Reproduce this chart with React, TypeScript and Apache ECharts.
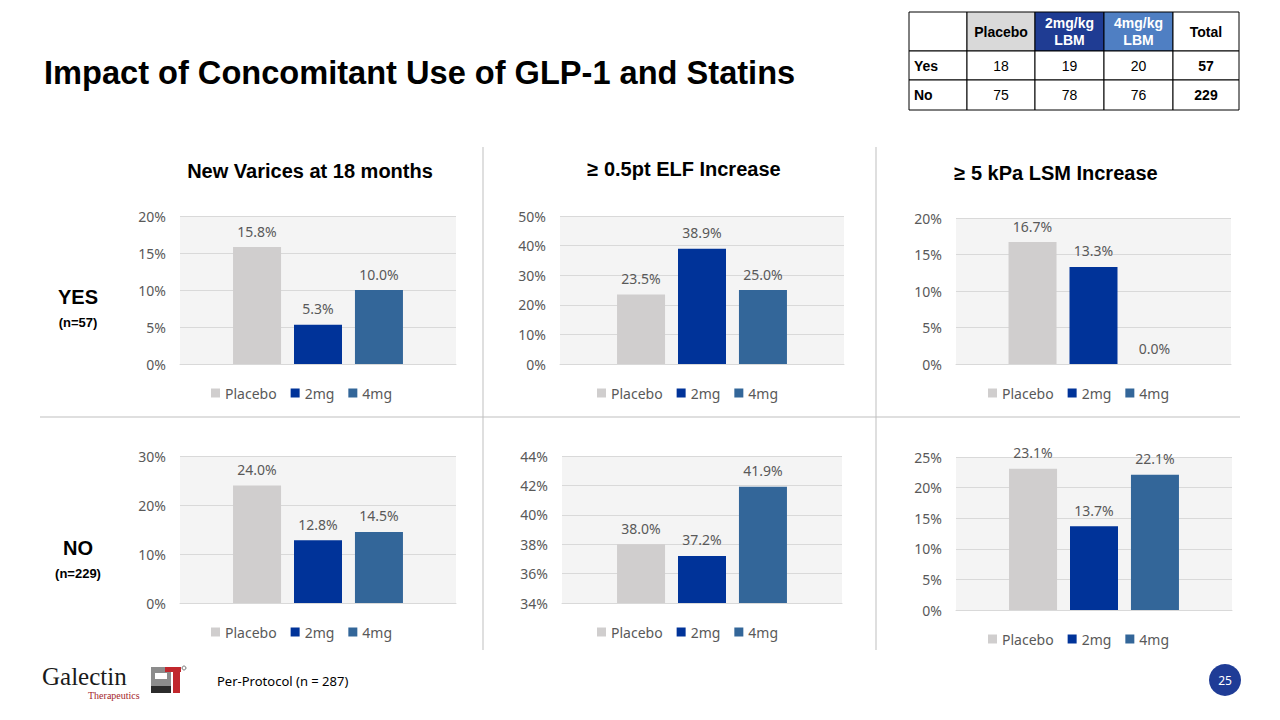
import React, { useEffect, useRef } from "react";
import * as echarts from "echarts";

const seriesNames = ["Placebo", "2mg", "4mg"];
const seriesColors = ["#d0cece", "#003399", "#336699"];
const chartTitles = ["New Varices at 18 months", "≥ 0.5pt ELF Increase", "≥ 5 kPa LSM Increase"];
const placeboValues = [15.8, 23.5, 16.7, 24.0, 38.0, 23.1];
const twoMgValues = [5.3, 38.9, 13.3, 12.8, 37.2, 13.7];
const fourMgValues = [10.0, 25.0, 0.0, 14.5, 41.9, 22.1];
const axisMin = [0, 0, 0, 0, 34, 0];
const axisMax = [20, 50, 20, 30, 44, 25];
const axisInterval = [5, 10, 5, 10, 2, 5];

const tableHeader = ["", "Placebo", "2mg/kg\nLBM", "4mg/kg\nLBM", "Total"];
const tableRowLabels = ["Yes", "No"];
const tablePlacebo = [18, 75];
const table2mg = [19, 78];
const table4mg = [20, 76];
const tableTotal = [57, 229];

// layout (positions only)
const grids = [
  { left: 180, top: 216, width: 276, height: 148, legendLeft: 211, legendTop: 387 },
  { left: 560, top: 216, width: 284, height: 148, legendLeft: 597, legendTop: 387 },
  { left: 956, top: 218, width: 275, height: 146, legendLeft: 988, legendTop: 387 },
  { left: 180, top: 456, width: 276, height: 147, legendLeft: 211, legendTop: 626 },
  { left: 562, top: 456, width: 280, height: 147, legendLeft: 597, legendTop: 626 },
  { left: 956, top: 457, width: 276, height: 153, legendLeft: 988, legendTop: 633 },
];
const titlePos = [
  { x: 310, y: 171 },
  { x: 684, y: 169 },
  { x: 1056, y: 173 },
];

const FONT = "'Noto Sans', sans-serif";
const BOLD = "'Liberation Sans', Arial, sans-serif";

function buildOption() {
  const values = [placeboValues, twoMgValues, fourMgValues];
  const series: any[] = [];
  grids.forEach((g, i) => {
    seriesNames.forEach((n, j) => {
      series.push({
        type: "bar",
        name: n,
        xAxisIndex: i,
        yAxisIndex: i,
        data: [values[j][i]],
        barWidth: 48,
        barGap: "27%",
        itemStyle: { color: seriesColors[j] },
        label: {
          show: true,
          position: "top",
          distance: 9,
          color: "#595959",
          fontSize: 14,
          fontFamily: FONT,
          formatter: (p: any) => Number(p.value).toFixed(1) + "%",
        },
      });
    });
  });

  const graphics: any[] = [];
  // main title
  graphics.push({
    type: "text",
    left: 44,
    top: 56,
    style: { text: "Impact of Concomitant Use of GLP-1 and Statins", font: `bold 32.6px ${BOLD}`, fill: "#000" },
  });
  // chart titles
  chartTitles.forEach((t, i) => {
    graphics.push({
      type: "text",
      x: titlePos[i].x,
      y: titlePos[i].y,
      style: { text: t, font: `bold 20px ${BOLD}`, fill: "#000", textAlign: "center", textVerticalAlign: "middle" },
    });
  });
  // row labels
  graphics.push(
    { type: "text", x: 78, y: 297, style: { text: "YES", font: `bold 20px ${BOLD}`, fill: "#000", textAlign: "center", textVerticalAlign: "middle" } },
    { type: "text", x: 78, y: 322, style: { text: "(n=57)", font: `bold 13px ${BOLD}`, fill: "#000", textAlign: "center", textVerticalAlign: "middle" } },
    { type: "text", x: 78, y: 548, style: { text: "NO", font: `bold 20px ${BOLD}`, fill: "#000", textAlign: "center", textVerticalAlign: "middle" } },
    { type: "text", x: 78, y: 573, style: { text: "(n=229)", font: `bold 13px ${BOLD}`, fill: "#000", textAlign: "center", textVerticalAlign: "middle" } }
  );
  // dividers
  const divColor = "#bfbfbf";
  graphics.push(
    { type: "line", shape: { x1: 40, y1: 417, x2: 1240, y2: 417 }, style: { stroke: divColor, lineWidth: 1 } },
    { type: "line", shape: { x1: 483, y1: 147, x2: 483, y2: 650 }, style: { stroke: divColor, lineWidth: 1 } },
    { type: "line", shape: { x1: 876, y1: 147, x2: 876, y2: 650 }, style: { stroke: divColor, lineWidth: 1 } }
  );

  // table
  const colX = [909, 967, 1035, 1104, 1173, 1239];
  const rowY = [12, 51, 80, 110];
  const headFill = ["#ffffff", "#d9d9d9", "#1f3c93", "#4f7fc3", "#ffffff"];
  const headText = ["#000", "#000", "#fff", "#fff", "#000"];
  for (let c = 0; c < 5; c++) {
    graphics.push({
      type: "rect",
      shape: { x: colX[c], y: rowY[0], width: colX[c + 1] - colX[c], height: rowY[1] - rowY[0] },
      style: { fill: headFill[c], stroke: "#000", lineWidth: 1 },
    });
    if (tableHeader[c]) {
      graphics.push({
        type: "text",
        x: (colX[c] + colX[c + 1]) / 2,
        y: (rowY[0] + rowY[1]) / 2,
        style: { text: tableHeader[c], font: `bold 14px ${BOLD}`, fill: headText[c], textAlign: "center", textVerticalAlign: "middle", lineHeight: 17 },
      });
    }
  }
  for (let r = 0; r < 2; r++) {
    const cells = [tableRowLabels[r], String(tablePlacebo[r]), String(table2mg[r]), String(table4mg[r]), String(tableTotal[r])];
    for (let c = 0; c < 5; c++) {
      graphics.push({
        type: "rect",
        shape: { x: colX[c], y: rowY[r + 1], width: colX[c + 1] - colX[c], height: rowY[r + 2] - rowY[r + 1] },
        style: { fill: "#fff", stroke: "#000", lineWidth: 1 },
      });
      const bold = c === 0 || c === 4;
      graphics.push({
        type: "text",
        x: c === 0 ? colX[c] + 5 : (colX[c] + colX[c + 1]) / 2,
        y: (rowY[r + 1] + rowY[r + 2]) / 2,
        style: {
          text: cells[c],
          font: `${bold ? "bold " : ""}14px ${BOLD}`,
          fill: "#000",
          textAlign: c === 0 ? "left" : "center",
          textVerticalAlign: "middle",
        },
      });
    }
  }

  // logo
  graphics.push(
    { type: "text", x: 42, y: 676, style: { text: "Galectin", font: `25px 'Liberation Serif', serif`, fill: "#1a1a1a", textVerticalAlign: "middle" } },
    { type: "text", x: 88, y: 695, style: { text: "Therapeutics", font: `10px 'Liberation Serif', serif`, fill: "#a3262a", textVerticalAlign: "middle" } },
    { type: "rect", shape: { x: 151, y: 667, width: 20, height: 26 }, style: { fill: "#8c8c8c" } },
    { type: "rect", shape: { x: 155, y: 673, width: 12, height: 6 }, style: { fill: "#fff" } },
    { type: "rect", shape: { x: 151, y: 686, width: 20, height: 7 }, style: { fill: "#2b2b2b" } },
    { type: "rect", shape: { x: 165, y: 667, width: 16, height: 5 }, style: { fill: "#c1272d" } },
    { type: "rect", shape: { x: 173, y: 667, width: 7, height: 26 }, style: { fill: "#c1272d" } },
    { type: "circle", shape: { cx: 184, cy: 668, r: 2 }, style: { fill: "none", stroke: "#555", lineWidth: 0.8 } },
    { type: "text", x: 217, y: 681, style: { text: "Per-Protocol (n = 287)", font: `13px ${FONT}`, fill: "#000", textVerticalAlign: "middle" } },
    { type: "circle", shape: { cx: 1225, cy: 680, r: 16 }, style: { fill: "#1f3c96" } },
    { type: "text", x: 1225, y: 680, style: { text: "25", font: `12px ${FONT}`, fill: "#fff", textAlign: "center", textVerticalAlign: "middle" } }
  );

  return {
    animation: false,
    backgroundColor: "#ffffff",
    grid: grids.map((g) => ({
      left: g.left,
      top: g.top,
      width: g.width,
      height: g.height,
      show: true,
      backgroundColor: "#f4f4f4",
      borderWidth: 0,
    })),
    xAxis: grids.map((_, i) => ({
      type: "category",
      gridIndex: i,
      data: [""],
      axisTick: { show: false },
      axisLabel: { show: false },
      axisLine: { show: true, lineStyle: { color: "#d9d9d9" } },
    })),
    yAxis: grids.map((_, i) => ({
      type: "value",
      gridIndex: i,
      min: axisMin[i],
      max: axisMax[i],
      interval: axisInterval[i],
      axisLine: { show: false },
      axisTick: { show: false },
      splitLine: { lineStyle: { color: "#d9d9d9" } },
      axisLabel: {
        color: "#595959",
        fontSize: 14,
        fontFamily: FONT,
        margin: 14,
        formatter: (v: number) => v + "%",
      },
    })),
    legend: grids.map((g) => ({
      data: seriesNames,
      left: g.legendLeft,
      top: g.legendTop - 1,
      padding: 0,
      icon: "rect",
      itemWidth: 9,
      itemHeight: 9,
      itemGap: 14,
      textStyle: { color: "#595959", fontSize: 14, fontFamily: FONT },
      selectedMode: false,
    })),
    series,
    graphic: graphics,
  };
}

export default function App() {
  const ref = useRef<HTMLDivElement>(null);
  useEffect(() => {
    if (!ref.current) return;
    const chart = echarts.init(ref.current, null, { renderer: "svg" });
    chart.setOption(buildOption() as any);
    return () => chart.dispose();
  }, []);
  return <div ref={ref} style={{ position: "absolute", left: 0, top: 0, width: 1280, height: 720 }} />;
}
